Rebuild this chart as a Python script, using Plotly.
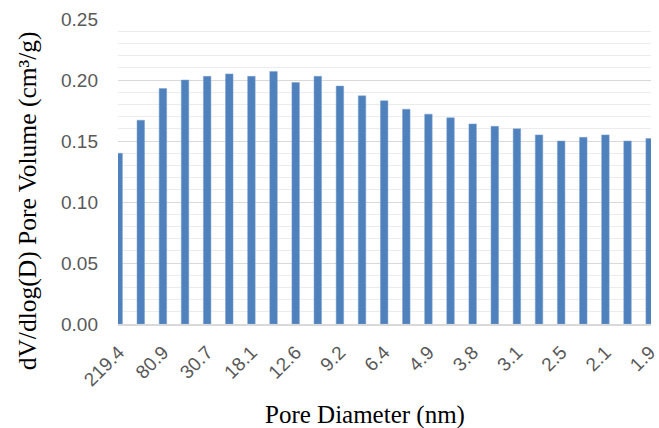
import plotly.graph_objects as go

tick_labels = ["219.4", "80.9", "30.7", "18.1", "12.6", "9.2", "6.4",
               "4.9", "3.8", "3.1", "2.5", "2.1", "1.9"]
pore_volume = [0.140, 0.167, 0.193, 0.200, 0.203, 0.205, 0.203, 0.207,
               0.198, 0.203, 0.195, 0.187, 0.183, 0.176, 0.172, 0.169,
               0.164, 0.162, 0.160, 0.155, 0.150, 0.153, 0.155, 0.150, 0.152]

x_pos = list(range(len(pore_volume)))
tick_pos = x_pos[::2]

fig = go.Figure(go.Bar(
    x=x_pos, y=pore_volume,
    marker=dict(color="#4f81bd", line=dict(color="#7ea1cf", width=0.5)),
    width=0.34,
))

W, H = 659, 428
ml, mr, mt, mb = 118, 0, 19, 104

fig.update_layout(
    width=W, height=H,
    margin=dict(l=ml, r=mr, t=mt, b=mb),
    paper_bgcolor="white", plot_bgcolor="white",
    showlegend=False,
    font=dict(family="Liberation Sans", color="#595959", size=19),
    xaxis=dict(
        range=[-0.03, 24.06],
        tickmode="array", tickvals=tick_pos, ticktext=tick_labels,
        tickangle=-45, tickfont=dict(size=19, color="#595959"),
        showgrid=False, zeroline=False,
        showline=True, linecolor="#d9d9d9", linewidth=1.5,
        ticks="", ticklabelstandoff=8, ticklabeloverflow="allow",
    ),
    yaxis=dict(
        range=[0, 0.25], dtick=0.05, tickformat=".2f",
        tickfont=dict(size=19, color="#595959"),
        showgrid=True, gridcolor="#d9d9d9", gridwidth=1.2,
        zeroline=False, showline=False, ticks="",
        ticklabelstandoff=19,
        minor=dict(dtick=0.01, showgrid=True, gridcolor="#ececec", gridwidth=1.2),
    ),
    annotations=[
        dict(text="Pore Diameter (nm)", xref="paper", yref="paper",
             x=(369 - ml) / (W - ml - mr), y=-(415 - (H - mb)) / (H - mt - mb),
             xanchor="center", yanchor="middle", showarrow=False,
             font=dict(family="Liberation Serif", size=25, color="black")),
        dict(text="dV/dlog(D) Pore Volume (cm³/g)", xref="paper", yref="paper",
             x=-(ml - 26) / (W - ml - mr), y=((H - mb) - 201) / (H - mt - mb),
             xanchor="center", yanchor="middle", textangle=-90, showarrow=False,
             font=dict(family="Liberation Serif", size=25.5, color="black")),
    ],
)

fig.write_html(
    "out.html",
    config={"displayModeBar": False},
    post_script="document.body.style.margin='0';document.body.style.padding='0';document.body.style.overflow='hidden';",
)
